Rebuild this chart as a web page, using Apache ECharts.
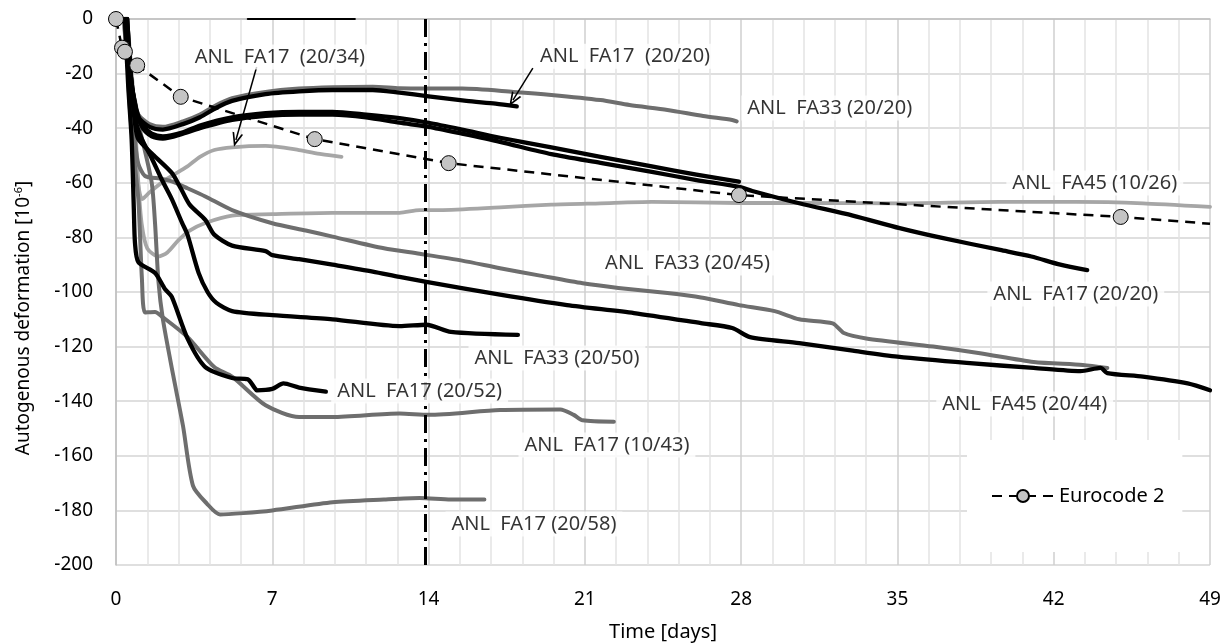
<!DOCTYPE html>
<html>
<head>
<meta charset="utf-8">
<script src="https://cdn.jsdelivr.net/npm/echarts@6/dist/echarts.min.js"></script>
<style>html,body{margin:0;padding:0;background:#fff}#c{width:1231px;height:643px}</style>
</head>
<body>
<div id="c"></div>
<script>
// ---- data (time [days], autogenous deformation [1e-6]) ----
const xTickInterval = 7;
const yTickInterval = 20;

const eurocode2 = [[0,0],[0.27,-10.5],[0.4,-12],[0.95,-17],[2.9,-28.5],[8.9,-44],[14.9,-52.8],[27.9,-64.5],[45,-72.5],[49,-75]];

const fa17_20_34 = [[0.35,0],[0.55,-20],[0.8,-45],[1.0,-61],[1.17,-66],[1.5,-63.5],[2.2,-59],[3.2,-54],[3.76,-50.5],[4.4,-48],[5.2,-47],[6.7,-46.5],[8.2,-48],[9.2,-49.5],[10.1,-50.5]];
const fa33_20_20 = [[0.4,0],[0.6,-20],[0.85,-30],[1.0,-35],[1.5,-38.5],[2.1,-39.5],[3.0,-37.5],[3.76,-35],[4.5,-31.5],[5.2,-29],[6.7,-26.7],[8.2,-25.5],[9.7,-25],[11.5,-24.8],[12.7,-25.4],[14,-25.5],[15.5,-25.5],[17.8,-26.7],[19.5,-27.8],[21.7,-29.7],[23,-31.5],[24.7,-33.3],[26.3,-35.5],[27.6,-37],[27.8,-37.5]];
const fa17_20_20a = [[0.4,0],[0.6,-20],[0.85,-31],[1.0,-36],[1.5,-39.5],[2.1,-40.5],[3.0,-38.5],[3.76,-36],[4.5,-32.5],[5.2,-30],[6.7,-27.5],[8.2,-26.5],[9.7,-26],[11.5,-26],[12.7,-27],[14,-28.3],[15.7,-30],[17,-31],[17.95,-32]];
const fa_black_28 = [[0.45,0],[0.65,-20],[0.9,-33],[1.2,-39],[1.6,-42],[2.1,-43],[3.0,-41.5],[3.76,-39],[5.2,-36],[6.7,-34.5],[8.2,-34],[9.7,-34],[11.2,-35],[12.7,-36.3],[14,-38],[15.5,-40.5],[17.2,-43.5],[19.5,-47],[21.7,-50.5],[24,-54],[26,-57],[27.9,-59.6]];
const fa17_20_20b = [[0.45,0],[0.65,-20],[0.9,-34],[1.2,-40],[1.6,-43],[2.1,-43.8],[3.0,-42],[3.76,-40],[5.2,-37],[6.7,-35.5],[8.2,-35],[9.7,-35],[11.2,-36],[12.7,-38],[14,-39.5],[15.5,-42],[17.2,-45],[19.5,-49.5],[21.7,-52.7],[24,-56],[26,-59],[27.9,-61.5],[28.5,-63],[30.6,-67.5],[33,-72],[35.1,-76.6],[37,-80.2],[39.6,-84.6],[41,-87],[42.3,-90],[43.5,-92]];
const fa45_10_26 = [[0.5,0],[0.8,-30],[1.0,-60],[1.15,-75],[1.4,-84],[1.9,-87],[2.3,-85.5],[2.8,-81],[3.3,-77.5],[4.0,-74.7],[5.2,-72],[7,-71.5],[9.7,-71],[12.7,-71],[13.6,-70],[14.5,-70],[17.2,-69],[19.5,-68],[21.7,-67.5],[24,-67],[27.9,-67.4],[30.6,-67.4],[35,-67.5],[39.6,-67],[43,-67],[46,-67.5],[49,-68.8]];
const fa33_20_45 = [[0.4,0],[0.6,-25],[0.85,-45],[1.0,-53],[1.3,-57.5],[2.0,-58.5],[2.5,-59.5],[3.2,-62],[4.0,-65],[5.2,-70],[7,-74.8],[8.5,-77.5],[9.7,-79.7],[12,-84],[13.6,-86],[15.5,-88.5],[17.2,-91.3],[19,-94],[20.9,-96.8],[22.5,-98.5],[24.7,-100.4],[26.2,-102],[27.9,-104.8],[29.5,-107],[30.6,-110],[32.1,-111.5],[32.6,-115],[33.6,-117],[36.6,-120],[38.7,-122.4],[41.1,-125.6],[43.3,-126.7],[44.4,-127.8]];
const fa45_20_44 = [[0.5,0],[0.7,-25],[0.85,-38],[1.0,-44],[1.7,-50],[2.5,-56.4],[2.9,-62],[3.3,-68],[4.0,-73.6],[4.4,-79],[5.2,-83],[6.7,-85],[7,-86.5],[8.2,-88],[9.7,-90],[11.5,-92.5],[12.7,-94.5],[13.9,-96.3],[17.2,-101],[20.2,-104.8],[23.2,-107.7],[26.2,-111.4],[27.6,-113.2],[28.4,-116.5],[30.6,-118.7],[33,-121.5],[35,-123.7],[38.1,-126],[41.1,-127.8],[43.2,-129],[44.1,-127.8],[44.4,-129.7],[46,-131],[48,-133.5],[49,-136]];
const fa33_20_50 = [[0.5,0],[0.7,-25],[0.9,-38],[1.16,-44],[1.6,-51],[2.06,-59],[2.5,-66],[2.96,-74.7],[3.2,-79],[3.7,-93],[4.1,-100],[4.5,-104],[5.2,-107],[7,-108.5],[9.7,-110],[12.7,-112.5],[13.9,-112],[15,-114.6],[18,-115.7]];
const fa17_20_52 = [[0.4,0],[0.55,-25],[0.7,-44],[0.8,-70],[0.85,-82],[1.0,-89],[1.75,-93],[2.2,-99],[2.5,-101.8],[3.2,-117],[4.0,-127.5],[5.2,-131.5],[5.9,-132],[6.2,-135],[6.3,-136],[7.0,-135.5],[7.5,-133.5],[8.2,-135],[9.4,-136.5]];
const fa17_10_43 = [[0.45,0],[0.6,-30],[0.8,-50],[1.0,-66],[1.16,-95],[1.3,-107.5],[1.75,-107.3],[2.06,-109],[3.2,-116.5],[4.4,-127.5],[5.2,-131],[6.7,-141.5],[8.2,-145.8],[9.7,-145.8],[12.7,-144.5],[14,-145],[17.2,-143.2],[19.9,-143],[20.5,-145],[20.9,-147],[22.3,-147.5]];
const fa17_20_58 = [[0.35,0],[0.5,-15],[0.7,-28],[1.2,-45],[1.6,-60],[1.75,-75],[1.9,-96],[2.1,-110],[2.55,-130],[3.0,-149],[3.45,-171],[4.07,-177.5],[4.66,-181.5],[5.7,-181],[7,-180],[9.7,-177],[12,-176],[13.6,-175.5],[15,-176],[16.5,-176]];
const topStub = [[5.9,0],[10.7,0]];
const referenceDay = [13.85];

// annotation labels: [x, y, text]
const labelTexts = [
  [7.34,-13.9,'ANL  FA17  (20/34)'],
  [22.8,-13.6,'ANL  FA17  (20/20)'],
  [31.97,-32.6,'ANL  FA33 (20/20)'],
  [43.84,-60.1,'ANL  FA45 (10/26)'],
  [25.6,-89.4,'ANL  FA33 (20/45)'],
  [42.99,-100.7,'ANL  FA17 (20/20)'],
  [19.75,-124.2,'ANL  FA33 (20/50)'],
  [13.6,-136.3,'ANL  FA17 (20/52)'],
  [40.7,-141,'ANL  FA45 (20/44)'],
  [21.99,-156,'ANL  FA17 (10/43)'],
  [18.72,-185,'ANL  FA17 (20/58)']
];
// arrows: [[x1,y1],[x2,y2]]
const arrows = [
  [[6.3,-17.6],[5.37,-44.3]],
  [[18.67,-18],[17.78,-29.7]]
];

const BLACK = '#000000', MID = '#6e6e6e', LIGHT = '#a6a6a6';
const FONT = 'Noto Sans';
const TXT = '#000';

function curve(name, data, color, width) {
  return {
    name, type: 'line', data, showSymbol: false, symbol: 'none',
    smooth: 0.25, lineStyle: { color, width, cap: 'round', join: 'round' },
    itemStyle: { color }, z: 2, animation: false, silent: true
  };
}

const chart = echarts.init(document.getElementById('c'), null, { renderer: 'canvas' });
chart.setOption({
  animation: false,
  backgroundColor: '#ffffff',
  textStyle: { fontFamily: FONT },
  grid: { left: 116, right: 21, top: 19, bottom: 78, containLabel: false, outerBoundsMode: 'none' },
  xAxis: {
    type: 'value', min: 0, max: 49, interval: xTickInterval,
    name: 'Time [days]', nameLocation: 'middle', nameGap: 57,
    nameTextStyle: { fontFamily: FONT, fontSize: 20, color: TXT },
    axisLine: { show: true, lineStyle: { color: '#bfbfbf', width: 1.5 } },
    axisTick: { show: false },
    axisLabel: { fontFamily: FONT, fontSize: 19, color: TXT, margin: 25 },
    splitLine: { show: true, lineStyle: { color: '#cfcfcf', width: 1.5 } },
    minorTick: { show: false, splitNumber: 5 },
    minorSplitLine: { show: true, lineStyle: { color: '#e3e3e3', width: 1.5 } }
  },
  yAxis: {
    type: 'value', min: -200, max: 0, interval: yTickInterval,
    name: 'Autogenous deformation [10{sup|-6}]', nameLocation: 'middle', nameGap: 82,
    nameTextStyle: { fontFamily: FONT, fontSize: 19, color: TXT, padding: [0, 52, 0, 0],
      rich: { sup: { fontSize: 11, verticalAlign: 'top', padding: [0,0,10,0], fontFamily: FONT, color: TXT } } },
    axisLine: { show: true, lineStyle: { color: '#bfbfbf', width: 1.5 } },
    axisTick: { show: false },
    axisLabel: { fontFamily: FONT, fontSize: 19, color: TXT, margin: 23 },
    splitLine: { show: true, lineStyle: { color: '#d4d4d4', width: 1.5 } }
  },
  legend: {
    data: ['Eurocode 2'], left: 967, top: 440, orient: 'horizontal',
    backgroundColor: '#ffffff', padding: [46, 18, 46, 24], itemWidth: 62, itemHeight: 15, itemGap: 10,
    textStyle: { fontFamily: FONT, fontSize: 20, color: TXT }
  },
  series: [
    curve('ANL FA17 (20/34)', fa17_20_34, LIGHT, 3.8),
    curve('ANL FA45 (10/26)', fa45_10_26, LIGHT, 3.8),
    curve('ANL FA33 (20/20)', fa33_20_20, MID, 4),
    curve('ANL FA33 (20/45)', fa33_20_45, MID, 4),
    curve('ANL FA17 (10/43)', fa17_10_43, MID, 4),
    curve('ANL FA17 (20/58)', fa17_20_58, MID, 4),
    curve('ANL FA17 (20/20) a', fa17_20_20a, BLACK, 4.3),
    curve('ANL black 28d', fa_black_28, BLACK, 4.3),
    curve('ANL FA17 (20/20) b', fa17_20_20b, BLACK, 4.3),
    curve('ANL FA45 (20/44)', fa45_20_44, BLACK, 4.3),
    curve('ANL FA33 (20/50)', fa33_20_50, BLACK, 4.3),
    curve('ANL FA17 (20/52)', fa17_20_52, BLACK, 4.3),
    Object.assign(curve('stub', topStub, BLACK, 2), { smooth: false }),
    {
      name: 'annotations', type: 'scatter', symbolSize: 0, z: 5, silent: true,
      data: labelTexts.map(d => ({ value: [d[0], d[1]], name: d[2] })),
      label: {
        show: true, position: 'inside', formatter: p => p.name,
        fontFamily: FONT, fontSize: 20, color: TXT,
        backgroundColor: '#ffffff', padding: [3, 6, 2, 6]
      },
      markLine: {
        silent: true, animation: false,
        symbol: ['none', 'path://M5,0 L10,10 L8.4,10 L5,3.2 L1.6,10 L0,10 Z'], symbolSize: [11, 14],
        label: { show: false },
        lineStyle: { color: '#000', width: 1.5, type: 'solid' },
        data: arrows.map(a => [{ coord: a[0] }, { coord: a[1] }])
      }
    },
    {
      name: 'ref', type: 'line', data: [], z: 3,
      markLine: {
        silent: true, symbol: ['none', 'none'], animation: false, label: { show: false },
        lineStyle: { color: '#000', width: 3, type: [18, 6, 3, 6] },
        data: referenceDay.map(v => ({ xAxis: v }))
      }
    },
    {
      name: 'Eurocode 2', type: 'line', z: 6,
      data: eurocode2.map((d, i) => i === eurocode2.length - 1 ? { value: d, symbol: 'none' } : d),
      symbol: 'circle', symbolSize: 15, showAllSymbol: true,
      lineStyle: { color: '#000', width: 2.5, type: [10, 7] },
      itemStyle: { color: '#c4c4c4', borderColor: '#000', borderWidth: 1 },
      emphasis: { disabled: true },
      animation: false
    }
  ]
});
</script>
</body>
</html>
